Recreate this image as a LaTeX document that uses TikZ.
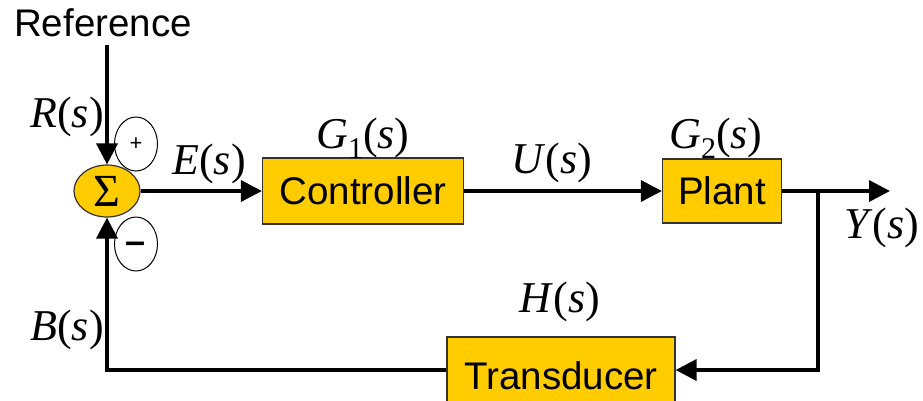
\documentclass[tikz,border=0pt]{standalone}
\usepackage{fontspec}
\setmainfont{Liberation Serif}
\setsansfont{Liberation Sans}
\usetikzlibrary{arrows.meta,shapes.geometric}

\definecolor{blockfill}{RGB}{255,204,0}
% transfer function labels, italic letter and argument
\newcommand{\sig}[1]{\textit{#1}(\textit{s})}
\newcommand{\gsub}[2]{\textit{#1}\raisebox{-0.5ex}{\fontsize{30}{30}\selectfont #2}(\textit{s})}

\begin{document}
\begin{tikzpicture}[x=1pt, y=-1pt]
    \tikzstyle{block} = [rectangle, draw=black!80, line width=1.2pt, fill=blockfill, font=\fontsize{38.5}{44}\selectfont\sffamily, inner sep=0pt]
    \tikzstyle{sumnode} = [ellipse, draw=black!80, line width=1.2pt, fill=blockfill, minimum width=66pt, minimum height=52pt, inner sep=0pt, font=\fontsize{46}{48}\selectfont]
    \tikzstyle{sign} = [ellipse, draw, line width=1pt, fill=white, minimum width=43pt, minimum height=54pt, inner sep=0pt, font=\fontsize{22}{24}\selectfont\sffamily]
    \tikzstyle{lbl} = [font=\fontsize{44}{50}\selectfont, inner sep=0pt]
    \tikzstyle{wire} = [line width=3.6pt, -{Triangle[length=21pt,width=21pt]}]
    \useasboundingbox (0,0) rectangle (923,400);

    \node (ref) at (103,23) [font=\fontsize{38.5}{44}\selectfont\sffamily, inner sep=0pt] {Reference};
    \coordinate (refin) at (107,45);
    \node (sum) at (107,191) [sumnode] {\raisebox{-0.3ex}{Σ}};
    \node (plus) at (136,144) [sign] {+};
    \node (minus) at (136,244) [sign] {\raisebox{-0.45em}[0pt][0pt]{\textbf{\fontsize{36}{36}\selectfont --}}};

    \node (ctrl) at (363,191) [block, minimum width=201pt, minimum height=66pt] {Controller};
    \node (plant) at (722,191) [block, minimum width=119pt, minimum height=64pt] {Plant};
    \node (trans) at (561,376) [block, minimum width=228pt, minimum height=78pt] {Transducer};
    \coordinate (branch) at (818,191);
    \coordinate (out) at (890,191);

    % signal names
    \node (rlbl) at (67,117) [lbl] {\sig{R}};
    \node (elbl) at (209,164) [lbl] {\sig{E}};
    \node (g1lbl) at (363,138) [lbl] {\gsub{G}{1}};
    \node (ulbl) at (552,163) [lbl] {\sig{U}};
    \node (g2lbl) at (716,138) [lbl] {\gsub{G}{2}};
    \node (ylbl) at (882,228) [lbl] {\sig{Y}};
    \node (hlbl) at (560,302) [lbl] {\sig{H}};
    \node (blbl) at (67,330) [lbl] {\sig{B}};

    \draw [wire] (refin) -- (sum.north);
    \draw [wire] (sum) -- (ctrl);
    \draw [wire] (ctrl) -- (plant);
    \draw [wire] (plant) -- (out);
    \draw [wire] (branch) |- ([yshift=6pt]trans.east);
    \draw [wire] ([yshift=6pt]trans.west) -| (sum.south);

\end{tikzpicture}
\end{document}
